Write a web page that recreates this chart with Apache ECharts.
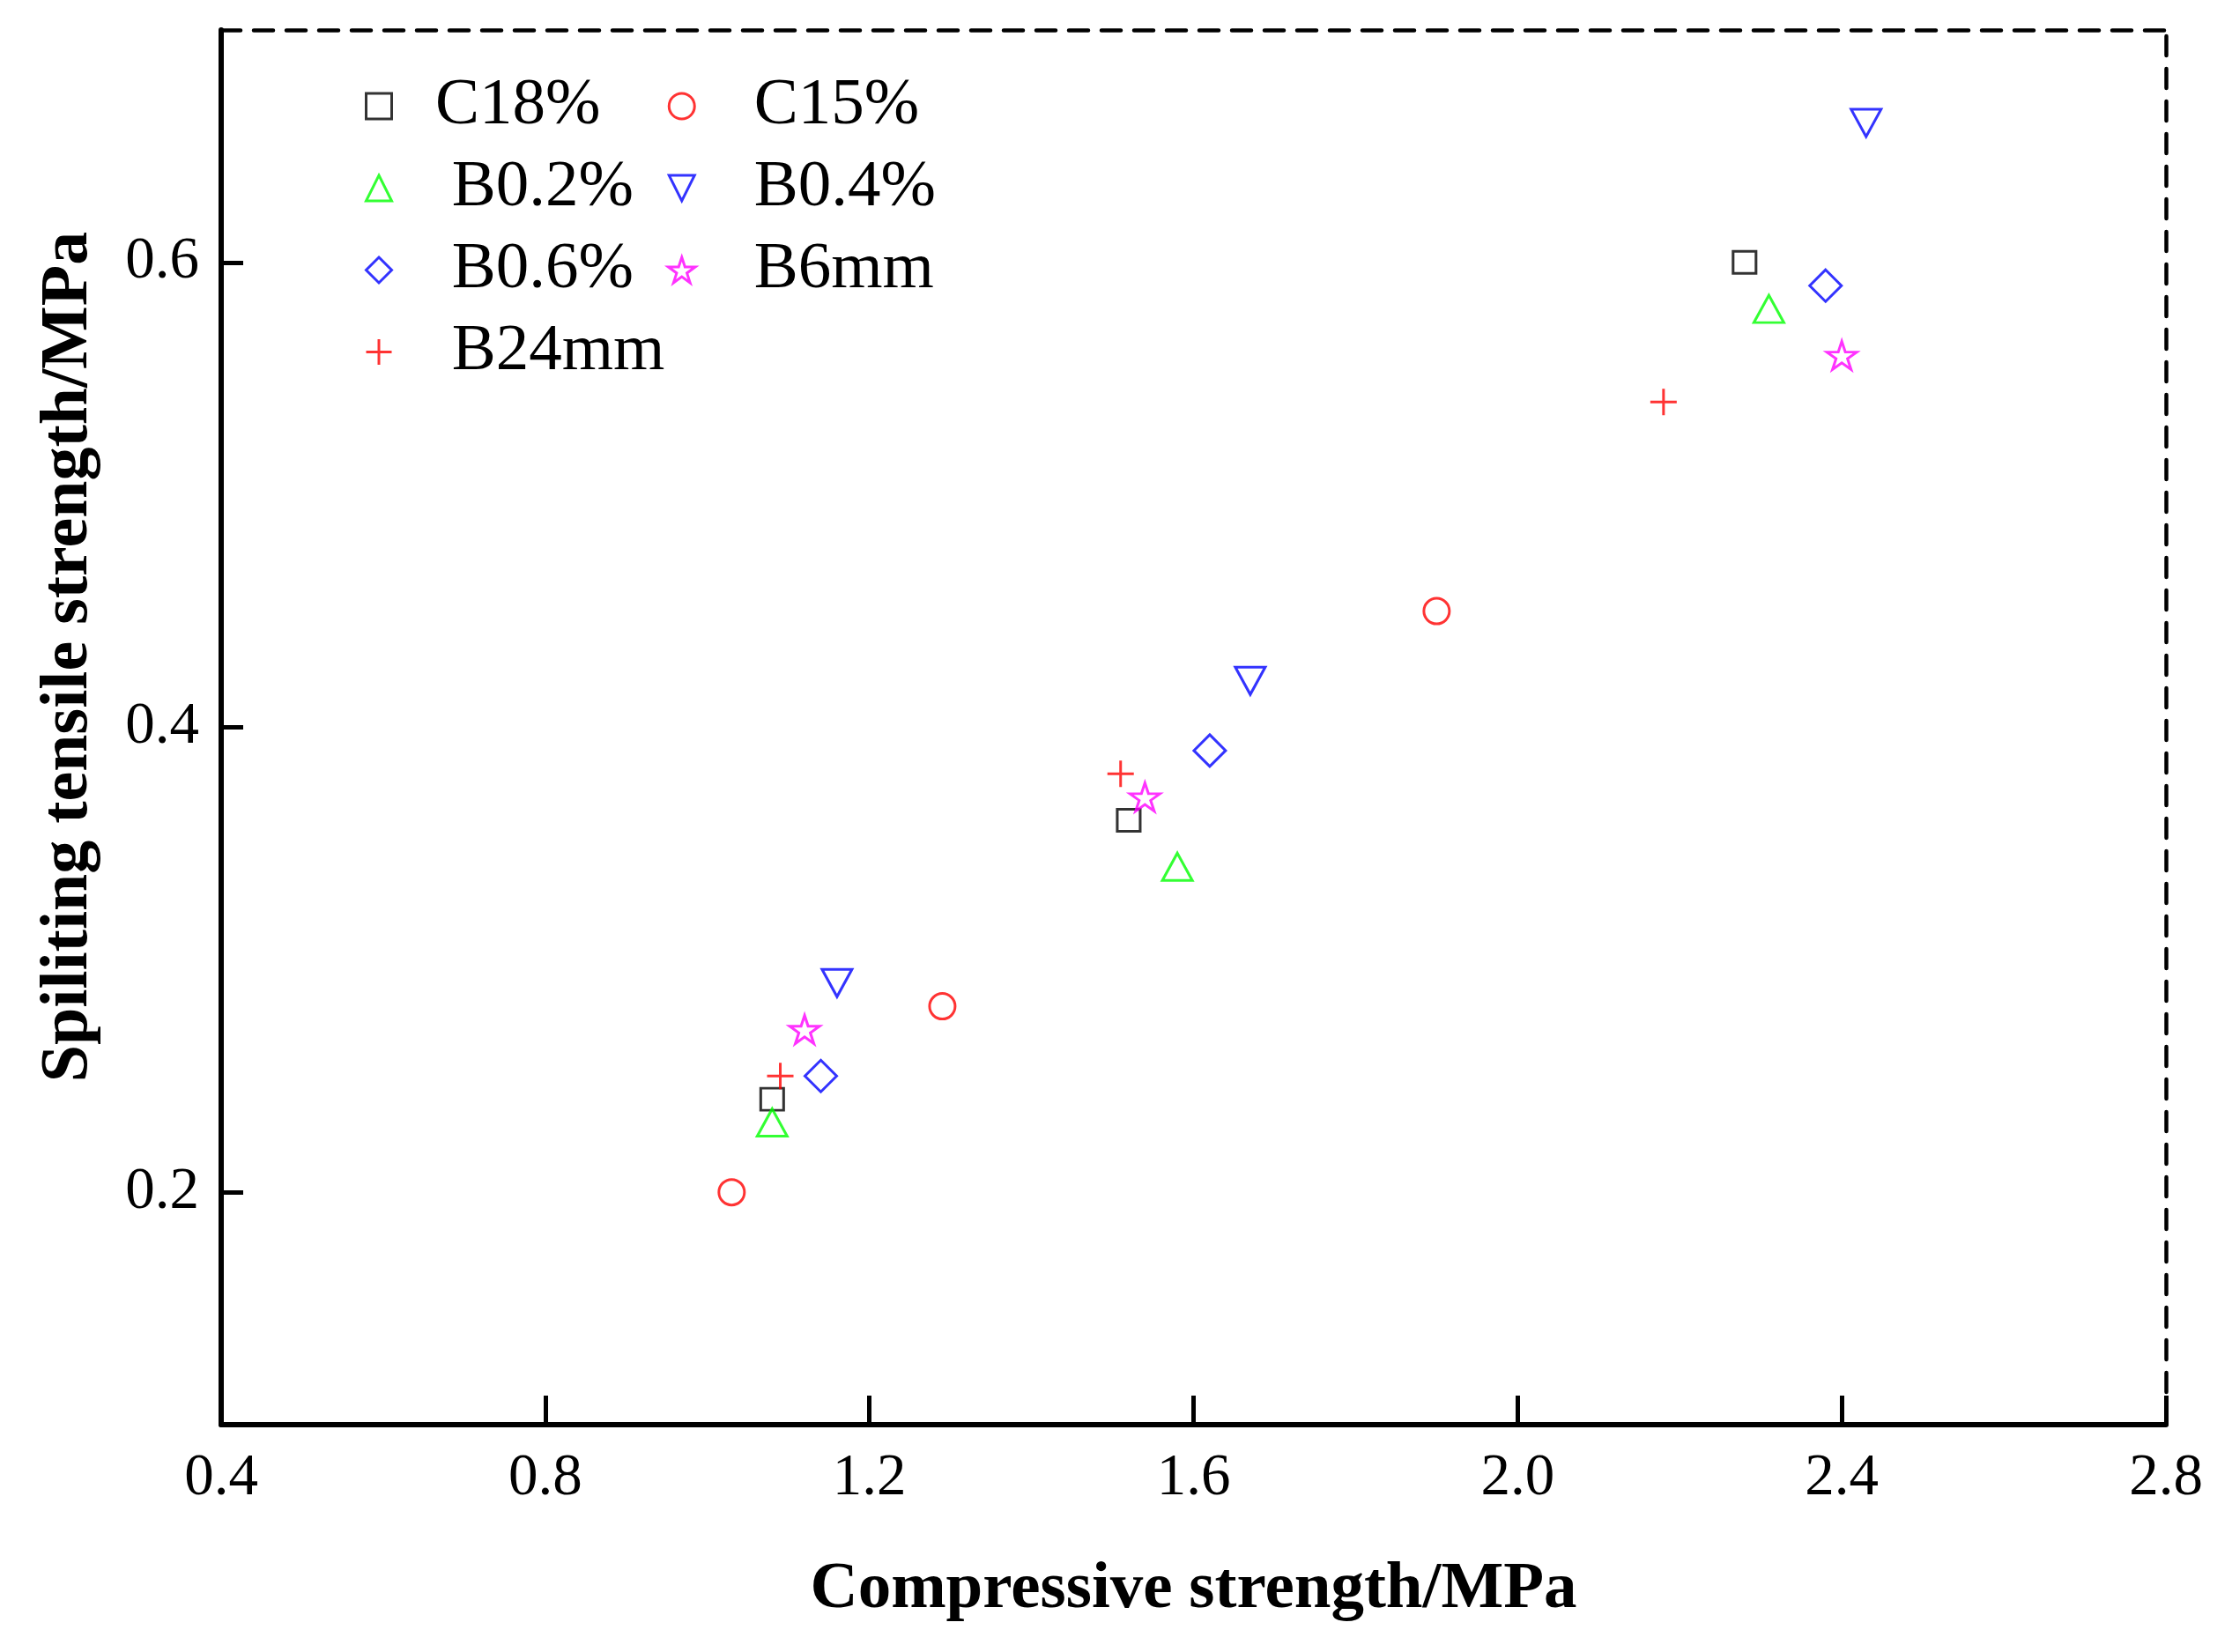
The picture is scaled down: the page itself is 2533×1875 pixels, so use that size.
<!DOCTYPE html>
<html>
<head>
<meta charset="utf-8">
<script src="https://cdn.jsdelivr.net/npm/echarts@6/dist/echarts.min.js"></script>
<style>
html,body{margin:0;padding:0;background:#fff;}
#chart{width:2533px;height:1875px;}
</style>
</head>
<body>
<div id="chart"></div>
<script>
// ---- data (compressive strength MPa, splitting tensile strength MPa) ----
const seriesNames = ['C18%', 'C15%', 'B0.2%', 'B0.4%', 'B0.6%', 'B6mm', 'B24mm'];
const C18 = [[2.28, 0.60], [1.52, 0.36], [1.08, 0.24]];
const C15 = [[1.90, 0.45], [1.29, 0.28], [1.03, 0.20]];
const B02 = [[2.31, 0.58], [1.58, 0.34], [1.08, 0.23]];
const B04 = [[2.43, 0.66], [1.67, 0.42], [1.16, 0.29]];
const B06 = [[2.38, 0.59], [1.62, 0.39], [1.14, 0.25]];
const B6mm = [[2.40, 0.56], [1.54, 0.37], [1.12, 0.27]];
const B24mm = [[2.18, 0.54], [1.51, 0.38], [1.09, 0.25]];
const xTicks = [0.4, 0.8, 1.2, 1.6, 2.0, 2.4, 2.8];
const yTicks = [0.2, 0.4, 0.6];

const FONT = 'Liberation Serif';
const SYM = {
  square: 'path://M0,0 L10,0 L10,10 L0,10 Z',
  circle: 'path://M0,5 A5,5 0 1 1 10,5 A5,5 0 1 1 0,5 Z',
  up: 'path://M5,0 L10,10 L0,10 Z',
  down: 'path://M0,0 L10,0 L5,10 Z',
  diamond: 'path://M5,0 L10,5 L5,10 L0,5 Z',
  star: 'path://M50,0 L61.23,34.55 L97.55,34.55 L68.17,55.9 L79.39,90.45 L50,69.1 L20.61,90.45 L31.83,55.9 L2.45,34.55 L38.77,34.55 Z',
  plus: 'path://M0,5 L10,5 M5,0 L5,10'
};

function sc(name, data, symbol, size, color) {
  return {
    name: name, type: 'scatter', data: data, symbol: symbol, symbolSize: size,
    xAxisIndex: 0, yAxisIndex: 0,
    itemStyle: { color: 'rgba(0,0,0,0)', borderColor: color, borderWidth: 3 },
    emphasis: { disabled: true }, z: 5
  };
}

const chart = echarts.init(document.getElementById('chart'), null, { renderer: 'canvas' });
const legendCommon = {
  orient: 'vertical', padding: 0, itemGap: 18, itemHeight: 29,
  selectedMode: false,
  textStyle: { fontFamily: FONT, fontSize: 75, color: '#000', lineHeight: 75 },
  itemStyle: { borderWidth: 3 }
};
chart.setOption({
  backgroundColor: '#fff',
  animation: false,
  grid: { left: 251, right: 75, top: 34, bottom: 258, containLabel: false },
  legend: [
    Object.assign({}, legendCommon, {
      left: 414, top: 83, itemWidth: 118,
      data: ['C18%', 'B0.2%', 'B0.6%', 'B24mm'],
      formatter: function (n) { return n.charAt(0) === 'B' ? ' ' + n : n; }
    }),
    Object.assign({}, legendCommon, {
      left: 757, top: 83, itemWidth: 154,
      data: ['C15%', 'B0.4%', 'B6mm']
    })
  ],
  xAxis: [{
    type: 'value', position: 'bottom', min: 0.4, max: 2.8, interval: 0.4,
    name: 'Compressive strength/MPa', nameLocation: 'middle', nameGap: 150,
    nameTextStyle: { fontFamily: FONT, fontWeight: 'bold', fontSize: 75, color: '#000' },
    axisLine: { show: true, onZero: false, lineStyle: { color: '#000', width: 6 } },
    axisTick: { show: true, inside: true, length: 33, lineStyle: { color: '#000', width: 5 } },
    axisLabel: { show: true, margin: 28, fontFamily: FONT, fontSize: 67, color: '#000',
      showMinLabel: true, showMaxLabel: true,
      formatter: function (v) { return xTicks.some(t => Math.abs(t - v) < 1e-6) ? v.toFixed(1) : ''; } },
    splitLine: { show: false }
  }, {
    type: 'value', position: 'top', min: 0.4, max: 2.8, interval: 0.4,
    axisLine: { show: true, onZero: false, lineStyle: { color: '#000', width: 4.5, type: [22, 15] } },
    axisTick: { show: false }, axisLabel: { show: false }, splitLine: { show: false }
  }],
  yAxis: [{
    type: 'value', position: 'left', min: 0.1, max: 0.7,
    name: 'Spiliting tensile strength/MPa', nameLocation: 'middle', nameGap: 135, nameRotate: 90,
    nameTextStyle: { fontFamily: FONT, fontWeight: 'bold', fontSize: 76, color: '#000', padding: [0, 0, 0, 160] },
    axisLine: { show: true, onZero: false, lineStyle: { color: '#000', width: 6 } },
    axisTick: { show: true, inside: true, length: 25, customValues: yTicks, lineStyle: { color: '#000', width: 5 } },
    axisLabel: { show: true, margin: 25, fontFamily: FONT, fontSize: 67, color: '#000', customValues: yTicks,
      formatter: function (v) { return v.toFixed(1); } },
    splitLine: { show: false }
  }, {
    type: 'value', position: 'right', min: 0.1, max: 0.7,
    axisLine: { show: true, onZero: false, lineStyle: { color: '#000', width: 4.5, type: [22, 15] } },
    axisTick: { show: false }, axisLabel: { show: false }, splitLine: { show: false }
  }],
  series: [
    sc('C18%', C18, SYM.square, [26, 25], '#000000'),
    sc('C15%', C15, SYM.circle, [29, 29], '#ff0000'),
    sc('B0.2%', B02, SYM.up, [34, 31], '#00ff00'),
    sc('B0.4%', B04, SYM.down, [34, 31], '#0000ff'),
    sc('B0.6%', B06, SYM.diamond, [36, 36], '#0000ff'),
    sc('B6mm', B6mm, SYM.star, [34, 32], '#ff00ff'),
    sc('B24mm', B24mm, SYM.plus, [30, 30], '#ff0000')
  ]
});
</script>
</body>
</html>
